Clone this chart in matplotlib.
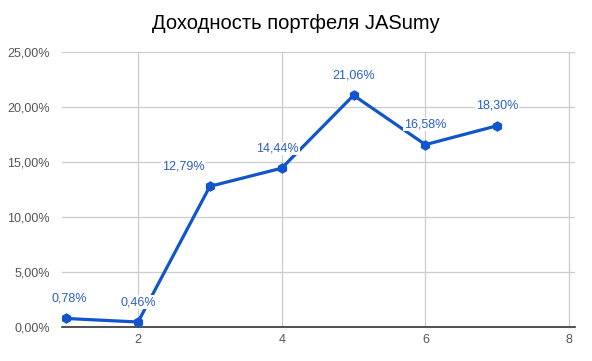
import matplotlib.pyplot as plt
from matplotlib.ticker import FuncFormatter

# ---------------- данные ----------------
periods = [1, 2, 3, 4, 5, 6, 7]
returns = [0.78, 0.46, 12.79, 14.44, 21.06, 16.58, 18.30]
label_texts = ["0,78%", "0,46%", "12,79%", "14,44%", "21,06%", "16,58%", "18,30%"]

# сдвиги подписей (в точках), чтобы не налезали на линию
label_dx = [2, 0, -19, -3, 0, 0, 0]

plt.rcParams['font.family'] = ['Liberation Sans', 'DejaVu Sans']

blue = "#1155cc"

fig = plt.figure(figsize=(5.92, 3.61), dpi=100)
ax = fig.add_axes([0.105, 0.094, 0.866, 0.762])

ax.plot(periods, returns, color=blue, linewidth=2.3, marker="h", markersize=6.5, zorder=3)

for x, y, t, dx in zip(periods, returns, label_texts, label_dx):
    ax.annotate(t, (x, y), xytext=(dx, 10), textcoords="offset points",
                ha="center", va="bottom", fontsize=9, color="#2a5fc4", zorder=4,
                bbox=dict(facecolor="white", edgecolor="none", pad=0.5))

ax.set_xlim(0.944, 8.08)
ax.set_ylim(0, 25)
ax.set_xticks([2, 4, 6, 8])
ax.set_yticks([0, 5, 10, 15, 20, 25])
ax.yaxis.set_major_formatter(FuncFormatter(lambda v, p: f"{v:.2f}%".replace(".", ",")))

ax.grid(True, color="#cccccc", linewidth=0.9)
ax.set_axisbelow(True)
for s in ["top", "right", "left"]:
    ax.spines[s].set_visible(False)
ax.spines["bottom"].set_color("#333333")
ax.spines["bottom"].set_linewidth(1.2)
ax.spines["bottom"].set_zorder(2)

ax.tick_params(axis="both", length=0, labelsize=9, labelcolor="#555555")
ax.tick_params(axis="y", pad=9)
ax.tick_params(axis="x", pad=5)

fig.suptitle("Доходность портфеля JASumy", fontsize=14.5, y=0.96, color="#000000")

plt.savefig("out.png", dpi=100)
